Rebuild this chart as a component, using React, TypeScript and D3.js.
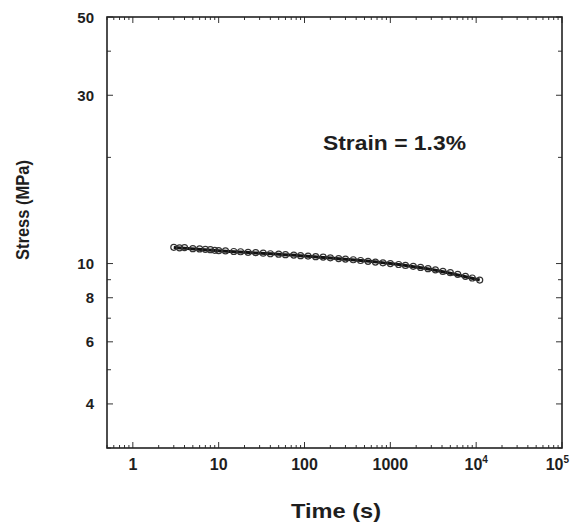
import React, { useEffect, useRef } from 'react';
import * as d3 from 'd3';

// measured points (time in s, stress in MPa)
const timeValues = [3, 3.5, 4, 5, 6, 7, 8, 9, 10, 12, 15, 18, 22, 27, 33, 40, 50, 60, 75, 90, 110, 135, 165, 200, 250, 300, 370, 450, 550, 670, 820, 1000, 1250, 1500, 1850, 2250, 2750, 3350, 4100, 5000, 6100, 7500, 9000, 11000];
const stressValues = [11.12, 11.08, 11.1, 11.02, 11.0, 10.97, 10.95, 10.9, 10.88, 10.86, 10.82, 10.8, 10.76, 10.74, 10.7, 10.66, 10.63, 10.6, 10.57, 10.53, 10.5, 10.46, 10.43, 10.38, 10.33, 10.3, 10.25, 10.2, 10.15, 10.1, 10.05, 10.0, 9.94, 9.88, 9.82, 9.75, 9.67, 9.6, 9.5, 9.42, 9.32, 9.2, 9.1, 8.98];

// fitted curve
const fitTime = [3, 10, 100, 1000, 3000, 11000];
const fitStress = [11.1, 10.87, 10.5, 10.0, 9.62, 8.98];

const xMajorTicks = [1, 10, 100, 1000, 10000, 100000];
const xTickLabels = ['1', '10', '100', '1000', '10^4', '10^5'];
const yLabelTicks = [4, 6, 8, 10, 30, 50];
const yTickLabels = ['4', '6', '8', '10', '30', '50'];
const yMinorTicks = [3, 5, 7, 9, 20, 40];

const App = () => {
    const ref = useRef(null);

    useEffect(() => {
        const svg = d3.select(ref.current);
        svg.selectAll("*").remove();

        const left = 107, right = 562, top = 17, bottom = 448;
        const font = "'Liberation Sans', Arial, sans-serif";
        const ink = "#1e1e1e";

        const x = d3.scaleLog().domain([0.5, 100000]).range([left, right]);
        const y = d3.scaleLog().domain([3, 50]).range([bottom, top]);

        const g = svg.append("g");

        // x ticks, bottom and top, pointing inward
        const xMinor = [];
        for (let d = 0.1; d < 100000; d *= 10) {
            for (let k = 2; k <= 9; k++) {
                const v = d * k;
                if (v >= 0.5 && v <= 100000) xMinor.push(v);
            }
        }
        const xAll = xMinor.map(v => ({ v, len: 3 })).concat(xMajorTicks.map(v => ({ v, len: 6 })));
        g.selectAll(".xtb").data(xAll).enter().append("line")
            .attr("x1", d => x(d.v)).attr("x2", d => x(d.v))
            .attr("y1", bottom).attr("y2", d => bottom - d.len)
            .attr("stroke", "#333").attr("stroke-width", 1);
        g.selectAll(".xtt").data(xAll).enter().append("line")
            .attr("x1", d => x(d.v)).attr("x2", d => x(d.v))
            .attr("y1", top).attr("y2", d => top + d.len)
            .attr("stroke", "#333").attr("stroke-width", 1);

        // y ticks, left and right
        const yAll = yMinorTicks.map(v => ({ v, len: 4 })).concat(yLabelTicks.map(v => ({ v, len: 6 })));
        g.selectAll(".ytl").data(yAll).enter().append("line")
            .attr("x1", left).attr("x2", d => left + d.len)
            .attr("y1", d => y(d.v)).attr("y2", d => y(d.v))
            .attr("stroke", "#333").attr("stroke-width", 1);
        g.selectAll(".ytr").data(yAll).enter().append("line")
            .attr("x1", right).attr("x2", d => right - d.len)
            .attr("y1", d => y(d.v)).attr("y2", d => y(d.v))
            .attr("stroke", "#333").attr("stroke-width", 1);

        // frame
        g.append("rect")
            .attr("x", left).attr("y", top)
            .attr("width", right - left).attr("height", bottom - top)
            .attr("fill", "none").attr("stroke", "#222").attr("stroke-width", 1.6);

        // x tick labels (last one pulled in so it stays on the page)
        xMajorTicks.forEach((v, i) => {
            const label = xTickLabels[i];
            const last = i === xMajorTicks.length - 1;
            const t = g.append("text")
                .attr("x", last ? 569 : x(v)).attr("y", 470)
                .attr("text-anchor", last ? "end" : "middle")
                .attr("font-family", font).attr("font-weight", "bold")
                .attr("font-size", 16).attr("fill", ink);
            if (label.includes('^')) {
                const [base, exp] = label.split('^');
                t.append("tspan").text(base);
                t.append("tspan").attr("dy", -7).attr("font-size", 10).text(exp);
            } else {
                t.text(label);
            }
        });

        // y tick labels
        g.selectAll(".yl").data(yLabelTicks).enter().append("text")
            .attr("x", 94).attr("y", d => y(d) + 5.5)
            .attr("text-anchor", "end")
            .attr("font-family", font).attr("font-weight", "bold")
            .attr("font-size", 15).attr("fill", ink)
            .text((d, i) => yTickLabels[i]);

        // fit curve
        const line = d3.line()
            .x((d, i) => x(fitTime[i]))
            .y((d, i) => y(fitStress[i]))
            .curve(d3.curveMonotoneX);
        g.append("path")
            .attr("d", line(fitTime))
            .attr("fill", "none").attr("stroke", "#111").attr("stroke-width", 3);

        // data points
        g.selectAll(".pt").data(timeValues).enter().append("circle")
            .attr("cx", d => x(d))
            .attr("cy", (d, i) => y(stressValues[i]))
            .attr("r", 3)
            .attr("fill", "none").attr("stroke", "#333").attr("stroke-width", 1.2);

        // annotation
        g.append("text")
            .attr("x", 323).attr("y", 150)
            .attr("font-family", font).attr("font-weight", "bold")
            .attr("font-size", 21).attr("fill", ink)
            .attr("textLength", 143).attr("lengthAdjust", "spacingAndGlyphs")
            .text("Strain = 1.3%");

        // axis titles
        g.append("text")
            .attr("x", 291).attr("y", 518)
            .attr("font-family", font).attr("font-weight", "bold")
            .attr("font-size", 21).attr("fill", ink)
            .attr("textLength", 90).attr("lengthAdjust", "spacingAndGlyphs")
            .text("Time (s)");
        g.append("text")
            .attr("transform", "translate(29,260) rotate(-90)")
            .attr("font-family", font).attr("font-weight", "bold")
            .attr("font-size", 18).attr("fill", ink)
            .attr("textLength", 100).attr("lengthAdjust", "spacingAndGlyphs")
            .text("Stress (MPa)");
    }, []);

    return (
        <svg ref={ref} width={571} height={522}
            style={{ position: 'absolute', left: 0, top: 0, background: '#fff' }} />
    );
};

export default App;
